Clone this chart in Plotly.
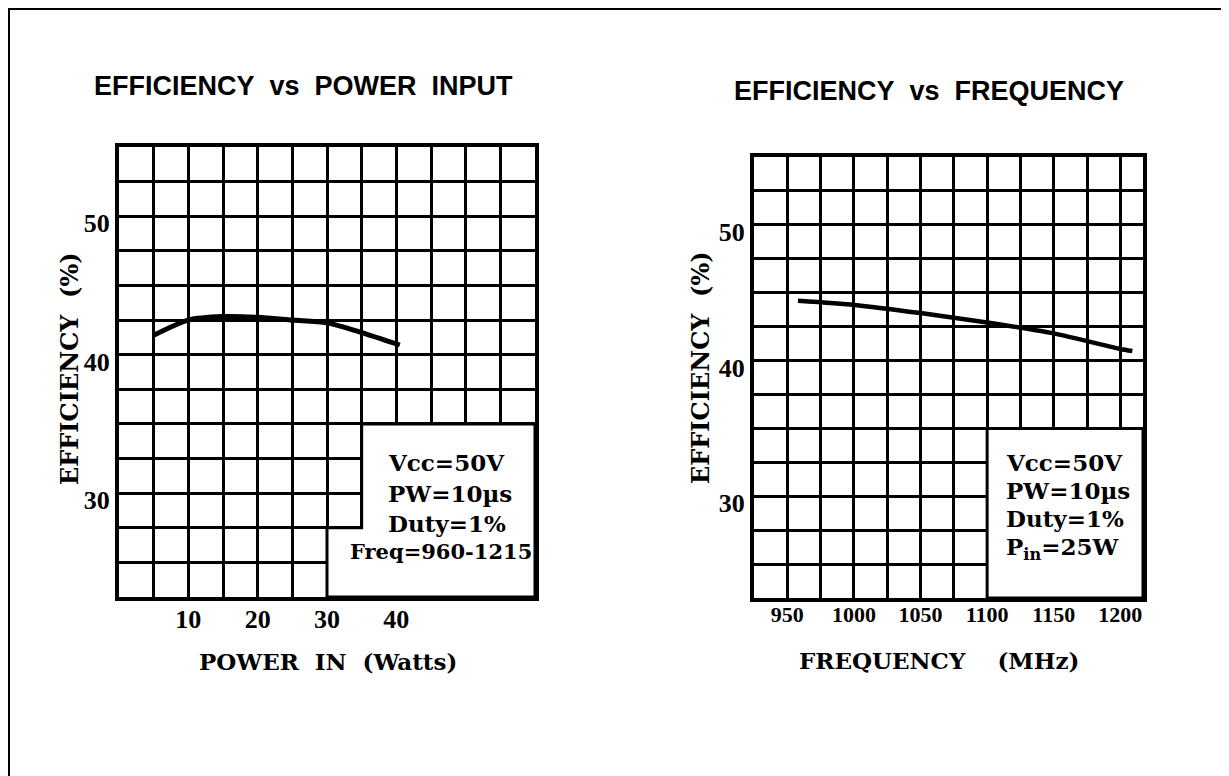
import plotly.graph_objects as go

# ---------------- data ----------------
power_in_w = [5, 10, 15, 20, 25, 30, 35, 40.5]
eff_vs_power = [41.4, 42.5, 42.75, 42.7, 42.5, 42.3, 41.6, 40.7]

freq_mhz = [958, 1000, 1050, 1100, 1150, 1200, 1209]
eff_vs_freq = [44.4, 44.1, 43.5, 42.8, 42.0, 40.85, 40.7]

power_ticks = [10, 20, 30, 40]
power_grid = [0, 5, 10, 15, 20, 25, 30, 35, 40, 45, 50, 55, 60]
freq_ticks = [950, 1000, 1050, 1100, 1150, 1200]
freq_grid = [925, 950, 975, 1000, 1025, 1050, 1075, 1100, 1125, 1150, 1175, 1200]
eff_ticks = [30, 40, 50]
eff_grid = [22.5, 25, 27.5, 30, 32.5, 35, 37.5, 40, 42.5, 45, 47.5, 50, 52.5, 55]

# page has an 8px body margin: figure sits at (8, 8) in the 1229x776 window
OFF = 8
W, H = 1229 - OFF, 776 - OFF
def px(x):
    return (x - OFF) / W
def py(y):
    return 1 - (y - OFF) / H

BLACK = "black"
SERIF = "DejaVu Serif"
TICKFONT = "Liberation Serif"

fig = go.Figure()
fig.add_trace(go.Scatter(x=power_in_w, y=eff_vs_power, mode="lines",
                         line=dict(color=BLACK, width=5, shape="spline", smoothing=0.8),
                         xaxis="x", yaxis="y", showlegend=False, hoverinfo="skip"))
fig.add_trace(go.Scatter(x=freq_mhz, y=eff_vs_freq, mode="lines",
                         line=dict(color=BLACK, width=4.5, shape="spline", smoothing=0.6),
                         xaxis="x2", yaxis="y2", showlegend=False, hoverinfo="skip"))

def axis(domain, rng, ticks, grid, size, **kw):
    return dict(showline=True, mirror=True, linecolor=BLACK, linewidth=4,
                showgrid=True, gridcolor=BLACK, gridwidth=3, zeroline=False,
                ticks="", tickmode="array", tickvals=ticks, fixedrange=True,
                minor=dict(tickmode="array", tickvals=grid, showgrid=True,
                           gridcolor=BLACK, gridwidth=3, ticks=""),
                domain=domain, range=rng,
                tickfont=dict(family=TICKFONT, size=size, color=BLACK, weight="bold"),
                **kw)

fig.update_layout(
    width=W, height=H, margin=dict(l=0, r=0, t=0, b=0),
    paper_bgcolor="white", plot_bgcolor="white", showlegend=False,
    xaxis=axis([px(119), px(535)], [0, 60], power_ticks, power_grid, 26,
               anchor="y", ticklabelstandoff=-4),
    yaxis=axis([py(597), py(147)], [22.5, 55], eff_ticks, eff_grid, 26,
               anchor="x", ticklabelshift=7),
    xaxis2=axis([px(754), px(1143)], [925, 1217], freq_ticks, freq_grid, 22,
                anchor="y2", ticklabelstandoff=-6),
    yaxis2=axis([py(598), py(157)], [22.5, 55], eff_ticks, eff_grid, 26,
                anchor="x2", ticklabelshift=7),
)

# note boxes (blank regions of the grid holding the test conditions)
fig.add_shape(type="path", xref="x", yref="y", layer="above",
              path="M 35,35 L 60,35 L 60,22.5 L 30,22.5 L 30,27.5 L 35,27.5 Z",
              fillcolor="white", line=dict(color=BLACK, width=3))
fig.add_shape(type="rect", xref="x2", yref="y2", layer="above",
              x0=1100, x1=1217, y0=22.5, y1=35,
              fillcolor="white", line=dict(color=BLACK, width=3))

# page frame
fig.add_shape(type="rect", xref="paper", yref="paper",
              x0=px(9), x1=px(1226), y0=-0.05, y1=py(9),
              line=dict(color=BLACK, width=2), fillcolor="rgba(0,0,0,0)")

def ann(text, x, y, size, family=SERIF, xanchor="center", angle=0, weight="bold"):
    fig.add_annotation(text=text, x=px(x), y=py(y), xref="paper", yref="paper",
                       showarrow=False, xanchor=xanchor, yanchor="middle",
                       textangle=angle,
                       font=dict(family=family, size=size, color=BLACK, weight=weight))

# chart titles
ann("EFFICIENCY\u00a0 vs\u00a0 POWER\u00a0 INPUT", 303, 86, 27, family="Liberation Sans")
ann("EFFICIENCY\u00a0 vs\u00a0 FREQUENCY", 929, 91, 27, family="Liberation Sans")

# axis titles
ann("POWER\u00a0 IN\u00a0 (Watts)", 328, 661, 23)
ann("FREQUENCY\u00a0\u00a0\u00a0\u00a0(MHz)", 939, 660, 23)
ann("EFFICIENCY\u00a0 (%)", 69, 368, 24, angle=-90)
ann("EFFICIENCY\u00a0 (%)", 700, 368, 24, angle=-90)

# condition notes, left
ann("Vcc=50V", 386, 462, 23, xanchor="left")
ann("PW=10\u00b5s", 386, 493, 23, xanchor="left")
ann("Duty=1%", 386, 523, 23, xanchor="left")
ann("Freq=960-1215", 534, 551, 21, xanchor="right")

# condition notes, right
ann("Vcc=50V", 1004, 462, 23, xanchor="left")
ann("PW=10\u00b5s", 1004, 490, 23, xanchor="left")
ann("Duty=1%", 1004, 518, 23, xanchor="left")
ann("P<sub>in</sub>=25W", 1004, 548, 23, xanchor="left")

fig.write_html("out.html")
